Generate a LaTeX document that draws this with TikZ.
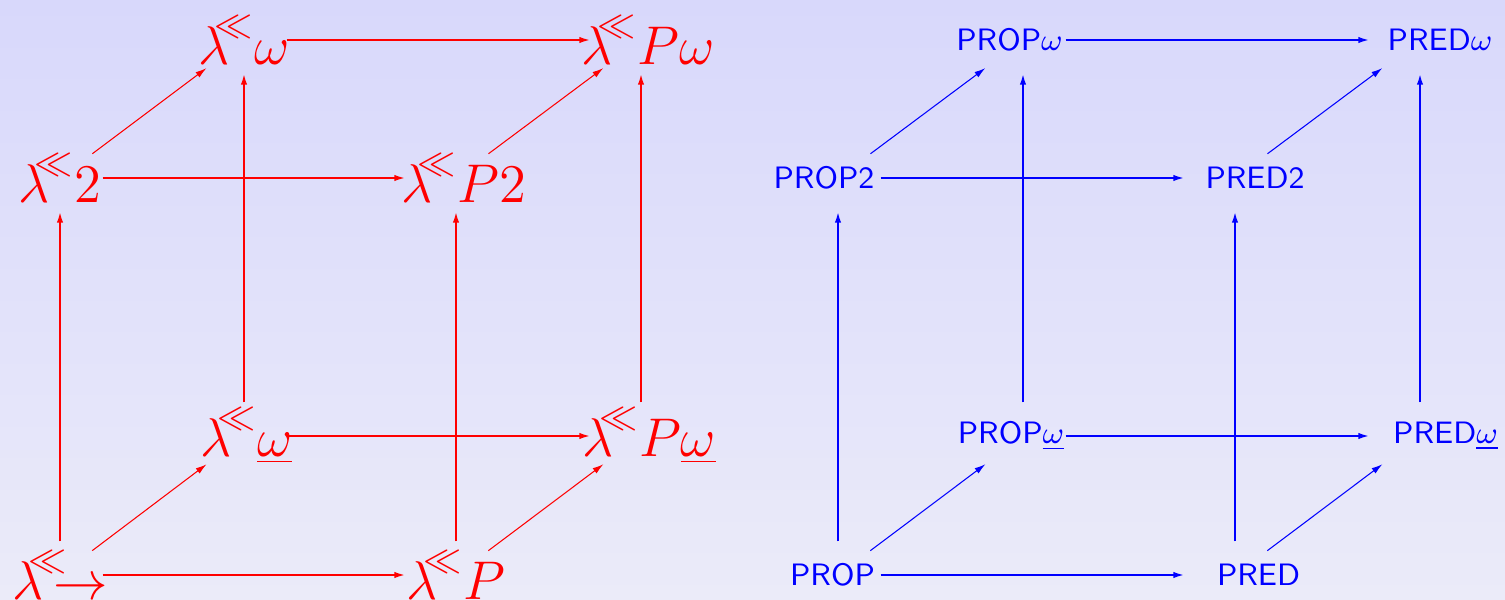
\RequirePackage{fix-cm}
\documentclass[tikz,border=0pt]{standalone}
\usepackage{xcolor}
\usepackage{tikz}
\usetikzlibrary{arrows.meta, shapes.geometric}

\definecolor{bgtop}{RGB}{216,216,251}
\definecolor{bgbot}{RGB}{235,235,249}

% lambda with raised << superscript
\newcommand{\lamll}{\lambda^{\mkern-7mu\raisebox{0.15em}{$\scriptstyle\ll$}}}

\begin{document}
\begin{tikzpicture}[
    x=0.01cm, y=-0.01cm,
    cell/.style={ellipse, minimum width=9.2mm, minimum height=6.6mm, inner sep=0pt},
    lam/.style={text=red, font=\fontsize{15.5}{18}\selectfont},
    sf/.style={text=blue, font=\fontsize{8.8}{11}\selectfont\sffamily},
    arr/.style={line width=0.55pt, -{Latex[length=1.1mm, width=0.65mm]}},
    hz/.style={arr, shorten <=-0.4mm, shorten >=0.4mm},
    vt/.style={arr},
    dg/.style={arr, line width=0.3pt, shorten >=0.65mm},
]
\useasboundingbox (0,0) rectangle (1505,600);
\shade[top color=bgtop, bottom color=bgbot] (0,0) rectangle (1505,600);

% --- lambda cube ---
\node[cell, label={[lam]center:$\lamll\omega$}] (lw) at (244,40) {};
\node[cell, label={[lam, xshift=0.7mm]center:$\lamll P\omega$}] (lpw) at (641,40) {};
\node[cell, label={[lam]center:$\lamll 2$}] (l2) at (60,178) {};
\node[cell, label={[lam, xshift=0.75mm]center:$\lamll P2$}] (lp2) at (456,178) {};
\node[cell, label={[lam, xshift=0.25mm]center:$\lamll\underline{\omega}$}] (lwu) at (244,436) {};
\node[cell, label={[lam, xshift=0.85mm]center:$\lamll P\underline{\omega}$}] (lpwu) at (641,436) {};
\node[cell, label={[lam]center:$\lamll\mkern-5mu{\to}$}] (lto) at (60,575) {};
\node[cell, label={[lam]center:$\lamll P$}] (lp) at (456,575) {};

\draw[hz, red] (lw) -- (lpw);
\draw[hz, red] (l2) -- (lp2);
\draw[hz, red] (lwu) -- (lpwu);
\draw[hz, red] (lto) -- (lp);
\draw[vt, red] (lto) -- (l2);
\draw[vt, red] (lwu) -- (lw);
\draw[vt, red] (lp) -- (lp2);
\draw[vt, red] (lpwu) -- (lpw);
\draw[dg, red] (l2) -- (lw);
\draw[dg, red] (lp2) -- (lpw);
\draw[dg, red] (lto) -- (lwu);
\draw[dg, red] (lp) -- (lpwu);

% --- logic cube ---
\node[cell, label={[sf, xshift=-1.35mm]center:PROP$\omega$}] (propw) at (1023,40) {};
\node[cell, label={[sf, xshift=2mm]center:PRED$\omega$}] (predw) at (1420,40) {};
\node[cell, label={[sf, xshift=-1.4mm]center:PROP2}] (prop2) at (838,178) {};
\node[cell, label={[sf, xshift=2mm]center:PRED2}] (pred2) at (1235,178) {};
\node[cell, label={[sf, xshift=-1.2mm]center:PROP$\underline{\omega}$}] (propwu) at (1023,436) {};
\node[cell, label={[sf, xshift=2.55mm]center:PRED$\underline{\omega}$}] (predwu) at (1420,436) {};
\node[cell, label={[sf, xshift=-0.55mm]center:PROP}] (prop) at (838,575) {};
\node[cell, label={[sf, xshift=2.35mm]center:PRED}] (pred) at (1235,575) {};

\draw[hz, blue] (propw) -- (predw);
\draw[hz, blue] (prop2) -- (pred2);
\draw[hz, blue] (propwu) -- (predwu);
\draw[hz, blue] (prop) -- (pred);
\draw[vt, blue] (prop) -- (prop2);
\draw[vt, blue] (propwu) -- (propw);
\draw[vt, blue] (pred) -- (pred2);
\draw[vt, blue] (predwu) -- (predw);
\draw[dg, blue] (prop2) -- (propw);
\draw[dg, blue] (pred2) -- (predw);
\draw[dg, blue] (prop) -- (propwu);
\draw[dg, blue] (pred) -- (predwu);

\end{tikzpicture}
\end{document}
